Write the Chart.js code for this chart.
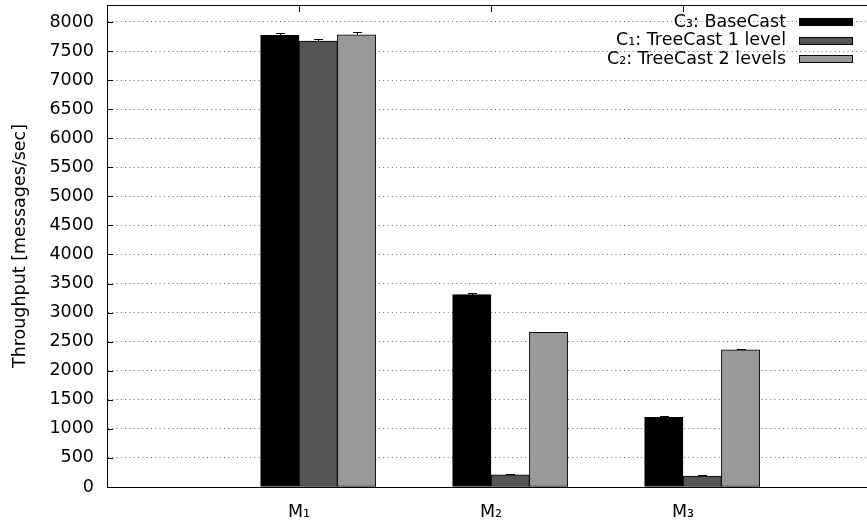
<!DOCTYPE html>
<html>
<head>
<meta charset="utf-8">
<script src="https://cdn.jsdelivr.net/npm/chart.js@4/dist/chart.umd.min.js"></script>
<style>
  html, body { margin: 0; padding: 0; background: #fff; overflow: hidden; }
  #wrap { width: 867px; height: 520px; overflow: hidden; }
  canvas { display: block; }
</style>
</head>
<body>
<div id="wrap"><canvas id="chart" width="876" height="520"></canvas></div>
<script>
// Throughput per configuration, with error margins
const categories = ['M₁', 'M₂', 'M₃'];
const seriesNames = ['C₃: BaseCast', 'C₁: TreeCast 1 level', 'C₂: TreeCast 2 levels'];

const baseCast  = [7770, 3310, 1200];
const treeCast1 = [7670, 210, 190];
const treeCast2 = [7780, 2660, 2360];

const baseCastErr  = [40, 20, 15];
const treeCast1Err = [45, 10, 10];
const treeCast2Err = [55, 15, 20];

const yTickValues = [0, 500, 1000, 1500, 2000, 2500, 3000, 3500, 4000,
                     4500, 5000, 5500, 6000, 6500, 7000, 7500, 8000];

const plotFont = '"DejaVu Sans", sans-serif';
const fontSize = 17.5;

const seriesValues = [baseCast, treeCast1, treeCast2];
const seriesErrors = [baseCastErr, treeCast1Err, treeCast2Err];
const seriesFill = ['#000000', '#555555', '#999999'];

// each cluster sits slightly right of its category tick
const clusterShift = 0.1;

const datasets = seriesNames.map((name, s) => ({
  label: name,
  data: seriesValues[s].map((v, i) => ({ x: i + clusterShift, y: v })),
  errors: seriesErrors[s],
  backgroundColor: seriesFill[s],
  borderColor: '#000000',
  borderWidth: 1,
  borderSkipped: false,
  barThickness: 38.4
}));

// error bars go under the bars, so only the part above each bar shows
const errorBars = {
  id: 'errorBars',
  beforeDatasetsDraw(chart) {
    const ctx = chart.ctx;
    const yScale = chart.scales.y;
    ctx.save();
    ctx.strokeStyle = '#000';
    ctx.lineWidth = 1;
    chart.data.datasets.forEach((ds, d) => {
      const meta = chart.getDatasetMeta(d);
      meta.data.forEach((bar, i) => {
        const v = ds.data[i].y, e = ds.errors[i];
        const top = Math.round(yScale.getPixelForValue(v + e)) + 0.5;
        const bot = Math.round(yScale.getPixelForValue(v - e)) + 0.5;
        const x = Math.round(bar.x) + 0.5;
        ctx.beginPath();
        ctx.moveTo(x, top); ctx.lineTo(x, bot);
        ctx.moveTo(x - 4.5, top); ctx.lineTo(x + 4.5, top);
        ctx.moveTo(x - 4.5, bot); ctx.lineTo(x + 4.5, bot);
        ctx.stroke();
      });
    });
    ctx.restore();
  }
};

// frame top edge, inward tick marks and the key in the upper right
const frameAndKey = {
  id: 'frameAndKey',
  afterDraw(chart) {
    const ctx = chart.ctx;
    const a = chart.chartArea;
    const xs = chart.scales.x, ys = chart.scales.y;
    ctx.save();
    ctx.strokeStyle = '#000';
    ctx.lineWidth = 1;
    ctx.beginPath();
    ctx.moveTo(a.left, a.top + 0.5); ctx.lineTo(a.right, a.top + 0.5);
    yTickValues.forEach(v => {
      const y = Math.round(ys.getPixelForValue(v)) + 0.5;
      ctx.moveTo(a.left, y); ctx.lineTo(a.left + 6, y);
    });
    categories.forEach((c, i) => {
      const x = Math.round(xs.getPixelForValue(i)) + 0.5;
      ctx.moveTo(x, a.top); ctx.lineTo(x, a.top + 7);
    });
    ctx.stroke();

    ctx.font = fontSize + 'px ' + plotFont;
    ctx.textAlign = 'right';
    ctx.textBaseline = 'middle';
    chart.data.datasets.forEach((ds, d) => {
      const cy = a.top + 17 + d * 18.5;
      ctx.fillStyle = '#000';
      ctx.fillText(ds.label, a.right - 89, cy);
      ctx.fillStyle = ds.backgroundColor;
      ctx.fillRect(a.right - 76, Math.round(cy) - 4, 54, 8);
      ctx.strokeRect(a.right - 76 + 0.5, Math.round(cy) - 4 + 0.5, 53, 7);
    });
    ctx.restore();
  }
};

new Chart(document.getElementById('chart'), {
  type: 'bar',
  data: { datasets },
  plugins: [errorBars, frameAndKey],
  options: {
    responsive: false,
    animation: false,
    devicePixelRatio: 1,
    layout: { padding: { top: 5, right: 1, left: 0, bottom: 0 } },
    plugins: { legend: { display: false }, tooltip: { enabled: false } },
    scales: {
      x: {
        type: 'linear',
        min: -1,
        max: 3,
        offset: false,
        afterBuildTicks: s => { s.ticks = categories.map((c, i) => ({ value: i })); },
        afterFit: s => { s.height = 33; s.paddingLeft = 0; s.paddingRight = 0; },
        grid: { display: false, offset: false, drawTicks: false },
        border: { display: true, color: '#000', width: 1 },
        ticks: {
          autoSkip: false,
          maxRotation: 0,
          padding: 15,
          color: '#000',
          font: { family: plotFont, size: fontSize },
          callback: (v, i) => categories[i]
        }
      },
      y: {
        min: 0,
        max: 8292,
        afterBuildTicks: s => { s.ticks = yTickValues.map(v => ({ value: v })); },
        afterFit: s => { s.width = 107; s.paddingTop = 0; s.paddingBottom = 0; },
        grid: { color: '#666', lineWidth: 1, drawTicks: false },
        border: { display: true, color: '#000', width: 1, dash: [1, 3.3] },
        ticks: {
          padding: 13,
          color: '#000',
          font: { family: plotFont, size: fontSize },
          callback: v => String(v)
        },
        title: {
          display: true,
          text: 'Throughput [messages/sec]',
          color: '#000',
          font: { family: plotFont, size: fontSize },
          padding: { top: 10, bottom: 0 }
        }
      }
    }
  }
});
</script>
</body>
</html>
